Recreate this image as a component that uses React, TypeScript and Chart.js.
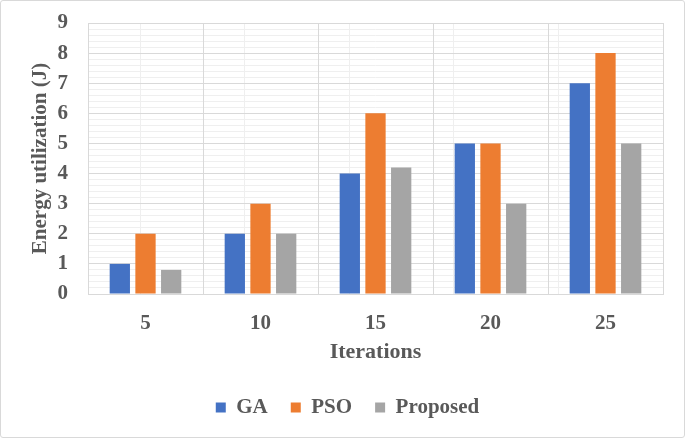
import React, { useEffect, useRef } from "react";
import { Chart, registerables } from "chart.js";

Chart.register(...registerables);

const categories = ["5", "10", "15", "20", "25"];
const gaValues = [1, 2, 4, 5, 7];
const psoValues = [2, 3, 6, 5, 8];
const proposedValues = [0.8, 2, 4.2, 3, 5];
const yTickMin = 0;
const yTickMax = 9;

const FONT = "'Liberation Serif', 'Times New Roman', serif";
const TEXT = "#595959";
const MAJOR = "#d9d9d9";
const MINOR = "#efefef";

export default function App() {
  const ref = useRef<HTMLCanvasElement>(null);

  useEffect(() => {
    document.body.style.margin = "0";
    const ctx = ref.current!;
    const isInt = (v: number) => Math.abs(v - Math.round(v)) < 1e-6;
    const minorColor = (c: any) =>
      c && c.tick && typeof c.tick.value === "number" && !isInt(c.tick.value) ? MINOR : "rgba(0,0,0,0)";
    const chart = new Chart(ctx, {
      type: "bar",
      data: {
        labels: categories,
        datasets: [
          { label: "GA", data: gaValues, backgroundColor: "#4472C4", xAxisID: "x", yAxisID: "y" },
          { label: "PSO", data: psoValues, backgroundColor: "#ED7D31", xAxisID: "x", yAxisID: "y" },
          { label: "Proposed", data: proposedValues, backgroundColor: "#A5A5A5", xAxisID: "x", yAxisID: "y" },
        ],
      },
      options: {
        animation: false,
        responsive: false,
        maintainAspectRatio: false,
        datasets: { bar: { categoryPercentage: 0.67, barPercentage: 0.79 } },
        layout: { padding: { left: 31, right: 21, top: 22, bottom: 9 } },
        plugins: {
          tooltip: { enabled: false },
          legend: {
            position: "bottom",
            labels: {
              boxWidth: 10,
              boxHeight: 10,
              padding: 23,
              color: TEXT,
              font: { family: FONT, size: 21, weight: "bold" },
            },
          },
        },
        scales: {
          y2: {
            type: "linear",
            position: "left",
            min: yTickMin,
            max: yTickMax,
            ticks: { display: false, stepSize: 0.2 },
            grid: { drawTicks: false, color: minorColor, lineWidth: 1 },
            border: { display: false },
            afterFit: (s: any) => { s.width = 0; s.paddingTop = 0; s.paddingBottom = 0; },
          },
          x2: {
            type: "linear",
            position: "bottom",
            min: 0,
            max: 5,
            ticks: { display: false, stepSize: 0.5 },
            grid: { drawTicks: false, color: minorColor, lineWidth: 1 },
            border: { display: false },
            afterFit: (s: any) => { s.height = 0; s.paddingLeft = 0; s.paddingRight = 0; },
          },
          y: {
            type: "linear",
            position: "left",
            min: yTickMin,
            max: yTickMax,
            ticks: {
              stepSize: 1,
              padding: 20,
              color: TEXT,
              font: { family: FONT, size: 21, weight: "bold" },
            },
            grid: { drawTicks: false, color: MAJOR, lineWidth: 1 },
            border: { display: true, color: MAJOR },
            title: {
              display: true,
              text: "Energy utilization (J)",
              color: TEXT,
              font: { family: FONT, size: 21, weight: "bold" },
              padding: { top: -4, bottom: 0 },
            },
            afterFit: (s: any) => { s.width = 56; s.paddingTop = 0; s.paddingBottom = 0; },
          },
          x: {
            type: "category",
            position: "bottom",
            ticks: {
              padding: 17,
              color: TEXT,
              font: { family: FONT, size: 21, weight: "bold" },
            },
            grid: { drawTicks: false, color: MAJOR, lineWidth: 1, offset: true },
            border: { display: true, color: MAJOR },
            title: {
              display: true,
              text: "Iterations",
              color: TEXT,
              font: { family: FONT, size: 22, weight: "bold" },
              padding: { top: 0, bottom: 8 },
            },
            afterFit: (s: any) => { s.height = 80; s.paddingLeft = 0; s.paddingRight = 0; },
          },
        },
      } as any,
    });
    return () => chart.destroy();
  }, []);

  return (
    <div
      style={{
        position: "fixed",
        left: 0,
        top: 0,
        width: 683,
        height: 436,
        border: "1px solid #d9d9d9",
        borderRadius: 3,
        background: "#fff",
      }}
    >
      <canvas ref={ref} width={683} height={436} style={{ display: "block", width: 683, height: 436 }} />
    </div>
  );
}
